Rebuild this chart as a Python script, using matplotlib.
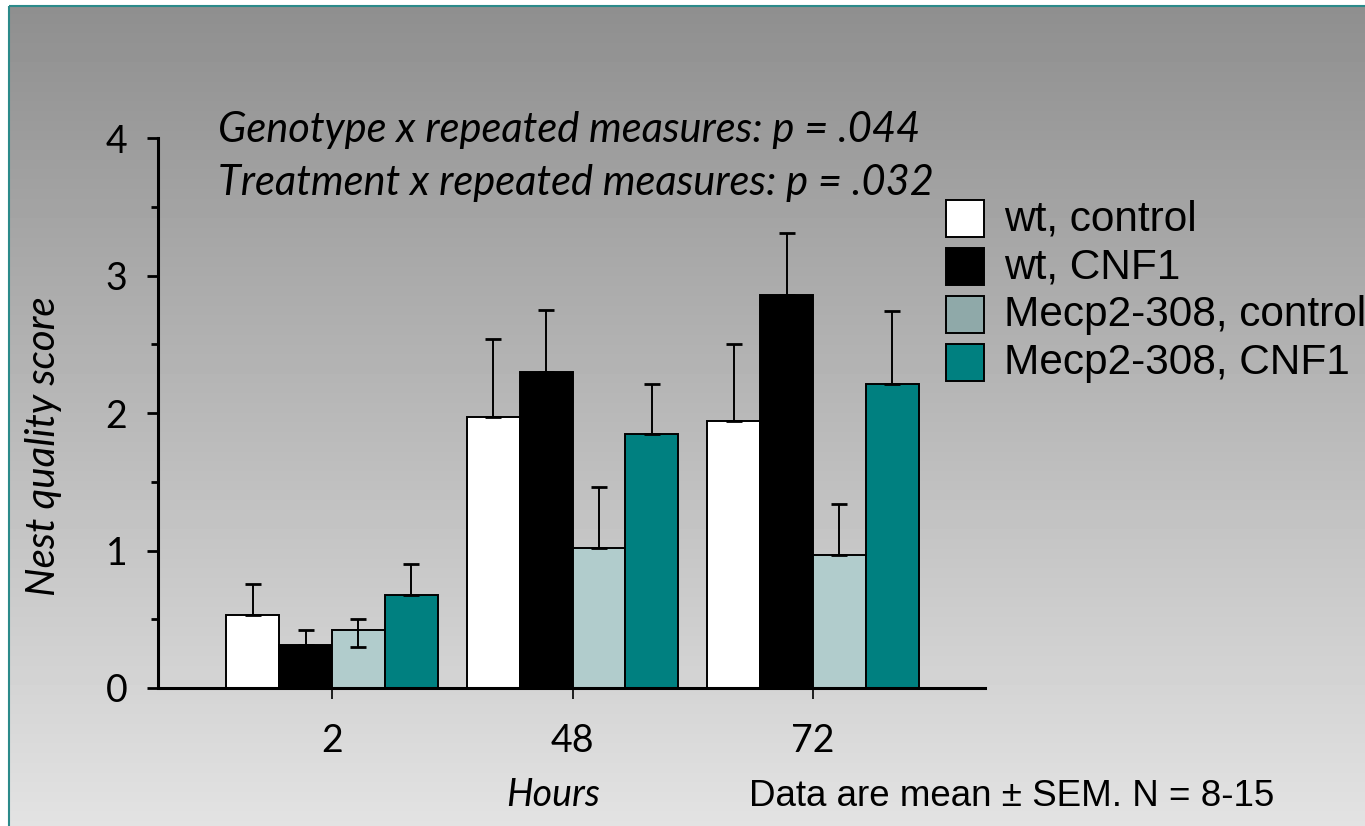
import numpy as np
import matplotlib
matplotlib.use("Agg")
from matplotlib import pyplot as plt
from matplotlib.patches import Rectangle
from matplotlib.ticker import MultipleLocator

# Data (nest quality score, mean + SEM)
hours = ["2", "48", "72"]
groups = ["wt, control", "wt, CNF1", "Mecp2-308, control", "Mecp2-308, CNF1"]
wt_control = [0.53, 1.97, 1.94]
wt_cnf1 = [0.31, 2.30, 2.86]
mecp_control = [0.42, 1.02, 0.97]
mecp_cnf1 = [0.68, 1.85, 2.21]
sem_wt_control = [0.23, 0.57, 0.56]
sem_wt_cnf1 = [0.11, 0.45, 0.45]
sem_mecp_control = [0.08, 0.44, 0.37]
sem_mecp_cnf1 = [0.22, 0.36, 0.53]
sem_low_mecp_control = [0.12, 0.0, 0.0]

bar_colors = ["white", "black", "#b1cccc", "#008080"]
legend_colors = ["white", "black", "#8fa9a9", "#008080"]

W, H = 1365, 826
fig = plt.figure(figsize=(W / 100, H / 100), dpi=100)
fig.patch.set_facecolor("white")

# gradient slide background
bg = fig.add_axes([0, 0, 1, 1])
grad = np.linspace(0.56, 0.89, 256).reshape(-1, 1)
bg.imshow(grad, cmap="gray", vmin=0, vmax=1, aspect="auto",
          extent=[9, W + 5, H + 5, 6], interpolation="bilinear")
bg.add_patch(Rectangle((9, 6), W, H, fill=False, edgecolor="#2b8a8a", lw=1.5))
bg.set_xlim(0, W)
bg.set_ylim(H, 0)
bg.axis("off")

def fx(px):
    return px / W

def fy(py):
    return 1 - py / H

ax = fig.add_axes([fx(158), fy(688), (985 - 158) / W, (688 - 138) / H])
ax.set_facecolor("none")

x = np.arange(len(hours))
w = 0.22
series = [wt_control, wt_cnf1, mecp_control, mecp_cnf1]
sems = [sem_wt_control, sem_wt_cnf1, sem_mecp_control, sem_mecp_cnf1]
lows = [[0, 0, 0], [0, 0, 0], sem_low_mecp_control, [0, 0, 0]]
for i, (vals, err, low) in enumerate(zip(series, sems, lows)):
    pos = x + (i - 1.5) * w
    ax.bar(pos, vals, width=w, color=bar_colors[i], edgecolor="black",
           linewidth=1.4, zorder=2)
    ax.errorbar(pos, vals, yerr=[low, err], fmt="none", ecolor="black",
                elinewidth=1.4, capsize=6, capthick=2, zorder=3)

ax.set_xlim((158 - 332) / 240.5, (985 - 332) / 240.5)
ax.set_ylim(0, 4)
ax.set_xticks(x)
ax.set_xticklabels(hours)
ax.yaxis.set_major_locator(MultipleLocator(1))
ax.yaxis.set_minor_locator(MultipleLocator(0.5))
for s in ["top", "right"]:
    ax.spines[s].set_visible(False)
ax.spines["left"].set_linewidth(2.2)
ax.spines["bottom"].set_linewidth(2.2)
ax.spines["bottom"].set_bounds((161 - 332) / 240.5, (985 - 332) / 240.5)
ax.tick_params(axis="y", which="major", direction="out", length=8, width=2,
               labelsize=27, pad=14)
ax.tick_params(axis="y", which="minor", direction="out", length=5, width=2)
ax.tick_params(axis="x", direction="out", length=8, width=1.2,
               labelsize=27, pad=17)
for lab in ax.get_xticklabels() + ax.get_yticklabels():
    lab.set_fontfamily("Lato")

ax.set_ylabel("Nest quality score", fontsize=29, style="italic",
              family="Lato", labelpad=0)
ax.yaxis.set_label_coords((62 - 158) / (985 - 158), 0.44)

fig.text(fx(218), fy(130), "Genotype x repeated measures: p = .044",
         fontsize=30, style="italic", family="Lato", va="center")
fig.text(fx(218), fy(183), "Treatment x repeated measures: p = .032",
         fontsize=30, style="italic", family="Lato", va="center")
fig.text(fx(553), fy(795), "Hours", fontsize=27, style="italic",
         family="Lato", ha="center", va="center")
fig.text(fx(749), fy(796), "Data are mean \u00b1 SEM. N = 8-15", fontsize=26.5,
         family="Liberation Sans", va="center")

# legend drawn by hand to match the slide layout
for i, (lab, col) in enumerate(zip(groups, legend_colors)):
    top = 200 + i * 48
    bg.add_patch(Rectangle((946, top), 38, 37, facecolor=col,
                           edgecolor="black", lw=1.4))
    bg.text(1004, top + 19, lab, fontsize=30.5, family="Liberation Sans",
            va="center", ha="left")

fig.savefig("out.png", dpi=100)
